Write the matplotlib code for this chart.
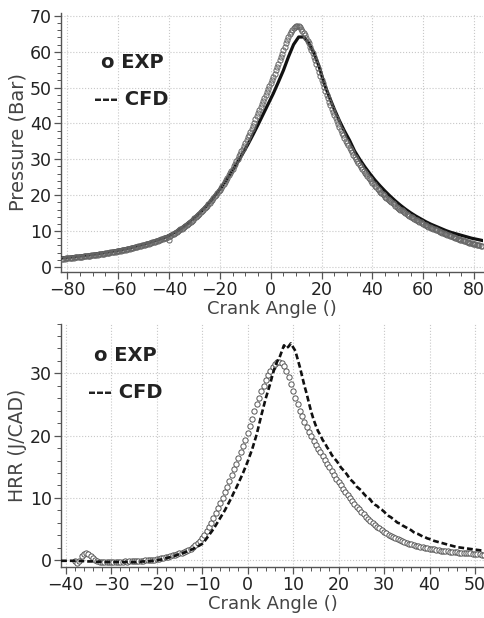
import numpy as np
import matplotlib.pyplot as plt
from matplotlib.ticker import MultipleLocator

# ---- top panel: cylinder pressure ----
p_exp_angle = np.arange(-82, 83.5, 0.5)
p_exp = [
    2.26, 2.30, 2.33, 2.37, 2.40, 2.44, 2.47, 2.51, 2.55, 2.59,
    2.63, 2.67, 2.71, 2.75, 2.79, 2.84, 2.88, 2.93, 2.97, 3.02,
    3.06, 3.11, 3.15, 3.20, 3.25, 3.30, 3.35, 3.40, 3.45, 3.51,
    3.56, 3.62, 3.67, 3.73, 3.78, 3.84, 3.90, 3.96, 4.02, 4.08,
    4.14, 4.21, 4.27, 4.34, 4.40, 4.47, 4.54, 4.62, 4.69, 4.77,
    4.84, 4.92, 5.00, 5.08, 5.16, 5.25, 5.33, 5.42, 5.51, 5.60,
    5.69, 5.79, 5.88, 5.98, 6.08, 6.18, 6.28, 6.39, 6.49, 6.60,
    6.71, 6.83, 6.94, 7.06, 7.17, 7.29, 7.41, 7.54, 7.66, 7.79,
    7.92, 8.05, 8.18, 8.32, 7.60, 8.65, 8.86, 9.07, 9.28, 9.50,
    9.73, 9.96, 10.19, 10.43, 10.68, 10.94, 11.20, 11.46, 11.73, 12.01,
    12.30, 12.59, 12.89, 13.19, 13.50, 13.82, 14.15, 14.49, 14.83, 15.18,
    15.54, 15.91, 16.29, 16.68, 17.07, 17.48, 17.89, 18.32, 18.75, 19.20,
    19.65, 20.12, 20.59, 21.08, 21.58, 22.11, 22.65, 23.20, 23.75, 24.32,
    24.90, 25.50, 26.10, 26.75, 27.40, 28.05, 28.70, 29.40, 30.10, 30.80,
    31.50, 32.25, 33.00, 33.75, 34.50, 35.30, 36.10, 36.90, 37.70, 38.55,
    39.40, 40.25, 41.10, 41.95, 42.80, 43.65, 44.50, 45.35, 46.20, 47.05,
    47.90, 48.75, 49.60, 50.45, 51.30, 52.15, 53.00, 53.90, 54.80, 55.70,
    56.60, 57.55, 58.50, 59.45, 60.40, 61.35, 62.30, 63.20, 64.00, 64.80,
    65.50, 66.10, 66.60, 66.95, 67.20, 67.20, 67.10, 66.80, 66.40, 65.90,
    65.30, 64.60, 63.90, 63.10, 62.30, 61.40, 60.50, 59.55, 58.60, 57.55,
    56.50, 55.45, 54.40, 53.30, 52.20, 51.15, 50.10, 49.05, 48.00, 47.00,
    46.00, 45.05, 44.10, 43.20, 42.30, 41.45, 40.60, 39.80, 39.00, 38.20,
    37.40, 36.65, 35.90, 35.20, 34.50, 33.85, 33.20, 32.55, 31.90, 31.30,
    30.70, 30.10, 29.50, 28.95, 28.40, 27.85, 27.30, 26.80, 26.30, 25.80,
    25.30, 24.85, 24.40, 23.95, 23.50, 23.05, 22.60, 22.20, 21.80, 21.40,
    21.00, 20.65, 20.30, 19.95, 19.60, 19.25, 18.90, 18.60, 18.30, 18.00,
    17.70, 17.40, 17.10, 16.80, 16.50, 16.25, 16.00, 15.75, 15.50, 15.25,
    15.00, 14.75, 14.50, 14.25, 14.00, 13.80, 13.60, 13.40, 13.20, 13.00,
    12.80, 12.60, 12.40, 12.20, 12.00, 11.80, 11.60, 11.40, 11.20, 11.05,
    10.90, 10.75, 10.60, 10.45, 10.30, 10.15, 10.00, 9.85, 9.70, 9.55,
    9.40, 9.25, 9.10, 8.95, 8.80, 8.65, 8.50, 8.37, 8.24, 8.11,
    7.98, 7.86, 7.74, 7.62, 7.50, 7.38, 7.26, 7.14, 7.02, 6.91,
    6.80, 6.69, 6.58, 6.48, 6.38, 6.28, 6.18, 6.09, 6.00, 5.92,
    5.84,
]

p_cfd_angle = np.arange(-83, 84, 2)
p_cfd = [
    2.44, 2.58, 2.72, 2.88, 3.04, 3.22, 3.40, 3.60, 3.81, 4.03,
    4.27, 4.52, 4.79, 5.09, 5.41, 5.76, 6.13, 6.53, 6.96, 7.42,
    7.91, 8.43, 9.10, 9.96, 10.90, 11.95, 13.10, 14.35, 15.75, 17.25,
    18.90, 20.70, 22.60, 24.70, 26.90, 29.20, 31.60, 34.10, 36.80, 39.60,
    42.50, 45.40, 48.30, 51.50, 54.80, 58.60, 62.00, 64.10, 64.10, 62.40,
    59.60, 56.00, 51.20, 47.50, 44.00, 40.80, 37.90, 35.30, 32.30, 30.00,
    27.90, 26.00, 24.20, 22.60, 21.10, 19.70, 18.40, 17.20, 16.10, 15.10,
    14.20, 13.40, 12.60, 11.90, 11.30, 10.70, 10.10, 9.60, 9.20, 8.80,
    8.40, 8.00, 7.70, 7.40,
]

# ---- bottom panel: heat release rate ----
hrr_exp_angle = np.arange(-38, 52.5, 0.5)
hrr_exp = [
    -0.2, -0.5, -0.1, 0.6, 1.0, 1.1, 1.0, 0.7, 0.3, 0.0,
    -0.2, -0.3, -0.3, -0.35, -0.3, -0.3, -0.25, -0.3, -0.3, -0.25,
    -0.3, -0.25, -0.2, -0.25, -0.2, -0.2, -0.2, -0.15, -0.15, -0.1,
    -0.1, -0.05, -0.05, 0.0, 0.05, 0.1, 0.15, 0.2, 0.3, 0.35,
    0.45, 0.55, 0.65, 0.75, 0.85, 0.95, 1.1, 1.2, 1.35, 1.5,
    1.65, 1.85, 2.1, 2.4, 2.75, 3.15, 3.6, 4.1, 4.7, 5.3,
    6.0, 6.8, 7.6, 8.4, 9.2, 10.0, 10.9, 11.8, 12.7, 13.6,
    14.6, 15.5, 16.4, 17.3, 18.3, 19.3, 20.4, 21.5, 22.7, 23.9,
    25.0, 26.1, 27.1, 28.0, 28.9, 29.7, 30.4, 31.0, 31.5, 31.8,
    31.9, 31.7, 31.2, 30.4, 29.4, 28.3, 27.2, 26.1, 25.0, 24.0,
    23.1, 22.2, 21.4, 20.6, 19.9, 19.2, 18.5, 17.9, 17.3, 16.7,
    16.1, 15.5, 14.9, 14.3, 13.7, 13.1, 12.5, 12.0, 11.5, 11.0,
    10.5, 10.0, 9.5, 9.0, 8.6, 8.2, 7.8, 7.4, 7.0, 6.6,
    6.3, 6.0, 5.7, 5.4, 5.1, 4.85, 4.6, 4.35, 4.1, 3.9,
    3.7, 3.5, 3.35, 3.2, 3.05, 2.9, 2.75, 2.65, 2.55, 2.45,
    2.35, 2.25, 2.15, 2.05, 1.95, 1.9, 1.85, 1.8, 1.75, 1.7,
    1.6, 1.55, 1.5, 1.45, 1.4, 1.35, 1.3, 1.3, 1.25, 1.2,
    1.2, 1.15, 1.15, 1.1, 1.1, 1.05, 1.0, 0.95, 0.95, 0.9,
    0.85,
]

hrr_cfd_angle = np.arange(-41, 52.5, 0.5)
hrr_cfd = [
    -0.1, -0.1, -0.1, -0.1, -0.1, -0.1, -0.1, -0.1, -0.15, -0.15,
    -0.15, -0.2, -0.2, -0.2, -0.2, -0.25, -0.25, -0.25, -0.3, -0.3,
    -0.3, -0.3, -0.3, -0.3, -0.3, -0.3, -0.3, -0.3, -0.3, -0.3,
    -0.3, -0.3, -0.3, -0.3, -0.25, -0.25, -0.2, -0.2, -0.2, -0.15,
    -0.1, -0.05, 0.0, 0.05, 0.1, 0.2, 0.3, 0.4, 0.5, 0.6,
    0.7, 0.85, 1.0, 1.1, 1.2, 1.35, 1.5, 1.65, 1.8, 2.0,
    2.2, 2.4, 2.6, 3.0, 3.5, 4.0, 4.5, 5.0, 5.6, 6.2,
    6.8, 7.4, 8.0, 8.7, 9.4, 10.1, 10.9, 11.6, 12.4, 13.2,
    14.0, 14.9, 15.8, 16.8, 17.8, 19.0, 20.2, 21.7, 23.2, 24.6,
    26.0, 27.2, 28.4, 29.8, 31.0, 31.9, 32.5, 33.5, 34.5, 34.0,
    34.3, 34.8, 34.2, 33.6, 32.3, 31.0, 29.5, 28.0, 26.7, 25.2,
    23.8, 22.6, 21.6, 20.7, 20.1, 19.3, 18.8, 18.1, 17.6, 16.9,
    16.4, 16.0, 15.5, 14.9, 14.5, 14.1, 13.6, 13.0, 12.7, 12.3,
    11.8, 11.5, 11.2, 10.7, 10.3, 10.1, 9.7, 9.2, 8.9, 8.7,
    8.3, 8.1, 7.8, 7.4, 7.1, 6.9, 6.6, 6.3, 6.0, 5.9,
    5.6, 5.4, 5.2, 5.0, 4.8, 4.5, 4.3, 4.2, 4.0, 3.8,
    3.7, 3.5, 3.4, 3.25, 3.1, 3.0, 2.9, 2.8, 2.7, 2.6,
    2.5, 2.4, 2.3, 2.2, 2.1, 2.05, 2.0, 1.95, 1.9, 1.85,
    1.8, 1.75, 1.7, 1.65, 1.6, 1.55, 1.5,
]

tick_col = "#222222"
label_col = "#444444"
spine_col = "#555555"


def style_axes(ax, xmajor, xminor, ymajor, yminor):
    for s in ["top", "right"]:
        ax.spines[s].set_visible(False)
    for s in ["left", "bottom"]:
        ax.spines[s].set_color(spine_col)
        ax.spines[s].set_linewidth(1.0)
    ax.xaxis.set_major_locator(MultipleLocator(xmajor))
    ax.xaxis.set_minor_locator(MultipleLocator(xminor))
    ax.yaxis.set_major_locator(MultipleLocator(ymajor))
    ax.yaxis.set_minor_locator(MultipleLocator(yminor))
    ax.tick_params(which="major", length=5, width=0.9, color=spine_col,
                   labelsize=12.5, labelcolor=tick_col, pad=1.5)
    ax.tick_params(which="minor", length=3, width=0.7, color=spine_col)
    ax.grid(True, which="major", linestyle=":", color="#c8c8c8", linewidth=0.8)
    ax.set_axisbelow(True)


fig = plt.figure(figsize=(4.85, 6.18), dpi=100)

# top
ax1 = fig.add_axes([0.126, 0.560, 0.870, 0.419])
ax1.plot(p_cfd_angle, p_cfd, color="#111111", linewidth=2.3, zorder=3)
ax1.plot(p_exp_angle, p_exp, linestyle="none", marker="o", markersize=3.7,
         markerfacecolor="none", markeredgecolor="#666666",
         markeredgewidth=0.7, zorder=4)
ax1.set_xlim(-82.4, 83.5)
ax1.set_ylim(-1.4, 70.8)
style_axes(ax1, 20, 5, 10, 2)
ax1.set_xlabel("Crank Angle ()", fontsize=13, color=label_col, labelpad=1)
ax1.set_ylabel("Pressure (Bar)", fontsize=14, color=label_col, labelpad=2)
ax1.text(0.168, 0.807, "o EXP", transform=ax1.transAxes, ha="center",
         va="center", fontsize=14, fontweight="bold", color=tick_col)
ax1.text(0.166, 0.664, "--- CFD", transform=ax1.transAxes, ha="center",
         va="center", fontsize=14, fontweight="bold", color=tick_col)

# bottom
ax2 = fig.add_axes([0.126, 0.0825, 0.874, 0.394])
ax2.plot(hrr_exp_angle, hrr_exp, linestyle="none", marker="o", markersize=3.8,
         markerfacecolor="white", markeredgecolor="#555555",
         markeredgewidth=0.7, zorder=3)
ax2.plot(hrr_cfd_angle, hrr_cfd, color="#111111", linewidth=1.9,
         dashes=(2.2, 1.1), zorder=4)
ax2.set_xlim(-41, 52.2)
ax2.set_ylim(-1.1, 38.0)
style_axes(ax2, 10, 2, 10, 2)
ax2.set_xlabel("Crank Angle ()", fontsize=13, color=label_col, labelpad=1)
ax2.set_ylabel("HRR (J/CAD)", fontsize=13.5, color=label_col, labelpad=2)
ax2.text(0.151, 0.869, "o EXP", transform=ax2.transAxes, ha="center",
         va="center", fontsize=14, fontweight="bold", color=tick_col)
ax2.text(0.151, 0.717, "--- CFD", transform=ax2.transAxes, ha="center",
         va="center", fontsize=14, fontweight="bold", color=tick_col)

fig.savefig("out.png", dpi=100)
